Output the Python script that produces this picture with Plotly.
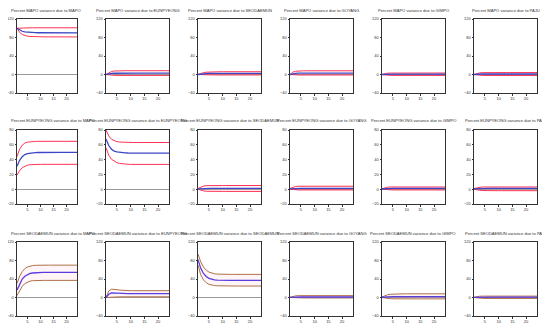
import plotly.graph_objects as go

periods = list(range(1, 25))
rows = ["MAPO", "EUNPYEONG", "SEODAEMUN"]
cols = ["MAPO", "EUNPYEONG", "SEODAEMUN", "GOYANG", "GIMPO", "PAJU"]
y_ranges = [[-40, 120], [-20, 80], [-40, 120]]
y_ticks = [[-40, 0, 40, 80, 120], [-20, 0, 20, 40, 60, 80], [-40, 0, 40, 80, 120]]
x_ticks = [5, 10, 15, 20]

# ---- Row 1: Percent MAPO variance due to ...
mapo_mapo_c = [100, 96, 93.5, 92, 91.2, 90.8, 90.5, 90.4, 90.3, 90.3, 90.2, 90.2, 90.2, 90.2, 90.2, 90.2, 90.2, 90.2, 90.2, 90.2, 90.2, 90.2, 90.2, 90.2]
mapo_mapo_u = [100, 100.5, 100.8, 101, 101, 101, 101, 101, 101, 101, 101, 101, 101, 101, 101, 101, 101, 101, 101, 101, 101, 101, 101, 101]
mapo_mapo_l = [100, 91, 86.5, 84, 82.8, 82.2, 81.8, 81.6, 81.5, 81.4, 81.3, 81.3, 81.3, 81.3, 81.3, 81.3, 81.3, 81.3, 81.3, 81.3, 81.3, 81.3, 81.3, 81.3]
mapo_eun_c = [0, 1.5, 2.3, 2.7, 2.9, 3.0, 3.0, 3.0, 3.0, 3.0, 3.0, 3.0, 3.0, 3.0, 3.0, 3.0, 3.0, 3.0, 3.0, 3.0, 3.0, 3.0, 3.0, 3.0]
mapo_eun_u = [0, 4, 6.5, 7.5, 8, 8.2, 8.2, 8.2, 8.2, 8.2, 8.2, 8.2, 8.2, 8.2, 8.2, 8.2, 8.2, 8.2, 8.2, 8.2, 8.2, 8.2, 8.2, 8.2]
mapo_eun_l = [0, -1, -1.5, -1.8, -2, -2, -2, -2, -2, -2, -2, -2, -2, -2, -2, -2, -2, -2, -2, -2, -2, -2, -2, -2]
mapo_seo_c = [0, 1, 1.6, 2, 2.3, 2.5, 2.6, 2.6, 2.6, 2.6, 2.6, 2.6, 2.6, 2.6, 2.6, 2.6, 2.6, 2.6, 2.6, 2.6, 2.6, 2.6, 2.6, 2.6]
mapo_seo_u = [0, 2.5, 4, 5, 5.5, 5.8, 6, 6, 6, 6, 6, 6, 6, 6, 6, 6, 6, 6, 6, 6, 6, 6, 6, 6]
mapo_seo_l = [0, -0.4, -0.7, -0.9, -1, -1, -1, -1, -1, -1, -1, -1, -1, -1, -1, -1, -1, -1, -1, -1, -1, -1, -1, -1]
mapo_goy_c = [0, 1.8, 2.6, 3, 3.1, 3.1, 3.1, 3.1, 3.1, 3.1, 3.1, 3.1, 3.1, 3.1, 3.1, 3.1, 3.1, 3.1, 3.1, 3.1, 3.1, 3.1, 3.1, 3.1]
mapo_goy_u = [0, 5, 7, 7.8, 8, 8, 8, 8, 8, 8, 8, 8, 8, 8, 8, 8, 8, 8, 8, 8, 8, 8, 8, 8]
mapo_goy_l = [0, -0.8, -1, -1.1, -1.1, -1.1, -1.1, -1.1, -1.1, -1.1, -1.1, -1.1, -1.1, -1.1, -1.1, -1.1, -1.1, -1.1, -1.1, -1.1, -1.1, -1.1, -1.1, -1.1]
mapo_gim_c = [0, 0.6, 0.9, 1, 1, 1, 1, 1, 1, 1, 1, 1, 1, 1, 1, 1, 1, 1, 1, 1, 1, 1, 1, 1]
mapo_gim_u = [0, 2, 2.8, 3.1, 3.2, 3.2, 3.2, 3.2, 3.2, 3.2, 3.2, 3.2, 3.2, 3.2, 3.2, 3.2, 3.2, 3.2, 3.2, 3.2, 3.2, 3.2, 3.2, 3.2]
mapo_gim_l = [0, -1, -1.6, -1.9, -2, -2, -2, -2, -2, -2, -2, -2, -2, -2, -2, -2, -2, -2, -2, -2, -2, -2, -2, -2]
mapo_paju_c = [0, 0.7, 1, 1.1, 1.1, 1.1, 1.1, 1.1, 1.1, 1.1, 1.1, 1.1, 1.1, 1.1, 1.1, 1.1, 1.1, 1.1, 1.1, 1.1, 1.1, 1.1, 1.1, 1.1]
mapo_paju_u = [0, 2.5, 3.5, 4, 4.2, 4.2, 4.2, 4.2, 4.2, 4.2, 4.2, 4.2, 4.2, 4.2, 4.2, 4.2, 4.2, 4.2, 4.2, 4.2, 4.2, 4.2, 4.2, 4.2]
mapo_paju_l = [0, -1, -1.7, -2, -2.1, -2.1, -2.1, -2.1, -2.1, -2.1, -2.1, -2.1, -2.1, -2.1, -2.1, -2.1, -2.1, -2.1, -2.1, -2.1, -2.1, -2.1, -2.1, -2.1]

# ---- Row 2: Percent EUNPYEONG variance due to ...
eun_mapo_c = [31, 39, 44, 46.8, 48.2, 48.9, 49.3, 49.5, 49.6, 49.7, 49.7, 49.7, 49.7, 49.7, 49.7, 49.7, 49.7, 49.7, 49.7, 49.7, 49.7, 49.7, 49.7, 49.7]
eun_mapo_u = [44, 54, 59.5, 62.3, 63.6, 64.2, 64.5, 64.6, 64.7, 64.7, 64.7, 64.7, 64.7, 64.7, 64.7, 64.7, 64.7, 64.7, 64.7, 64.7, 64.7, 64.7, 64.7, 64.7]
eun_mapo_l = [19, 25, 29, 31.3, 32.5, 33.1, 33.4, 33.5, 33.6, 33.6, 33.6, 33.6, 33.6, 33.6, 33.6, 33.6, 33.6, 33.6, 33.6, 33.6, 33.6, 33.6, 33.6, 33.6]
eun_eun_c = [68, 59, 54, 51.5, 50.3, 49.6, 49.2, 49, 48.9, 48.8, 48.8, 48.8, 48.8, 48.8, 48.8, 48.8, 48.8, 48.8, 48.8, 48.8, 48.8, 48.8, 48.8, 48.8]
eun_eun_u = [80, 72, 67.5, 65.3, 64.2, 63.7, 63.4, 63.2, 63.1, 63.1, 63.1, 63.1, 63.1, 63.1, 63.1, 63.1, 63.1, 63.1, 63.1, 63.1, 63.1, 63.1, 63.1, 63.1]
eun_eun_l = [56, 46, 40.5, 37.5, 35.8, 34.8, 34.2, 33.9, 33.7, 33.5, 33.5, 33.5, 33.5, 33.5, 33.5, 33.5, 33.5, 33.5, 33.5, 33.5, 33.5, 33.5, 33.5, 33.5]
eun_seo_c = [0.5, 0.8, 1, 1.1, 1.1, 1.1, 1.1, 1.1, 1.1, 1.1, 1.1, 1.1, 1.1, 1.1, 1.1, 1.1, 1.1, 1.1, 1.1, 1.1, 1.1, 1.1, 1.1, 1.1]
eun_seo_u = [1, 3, 4.2, 4.8, 5, 5, 5, 5, 5, 5, 5, 5, 5, 5, 5, 5, 5, 5, 5, 5, 5, 5, 5, 5]
eun_seo_l = [0, -1.5, -2.3, -2.8, -3, -3, -3, -3, -3, -3, -3, -3, -3, -3, -3, -3, -3, -3, -3, -3, -3, -3, -3, -3]
eun_goy_c = [0.5, 0.9, 1.1, 1.2, 1.2, 1.2, 1.2, 1.2, 1.2, 1.2, 1.2, 1.2, 1.2, 1.2, 1.2, 1.2, 1.2, 1.2, 1.2, 1.2, 1.2, 1.2, 1.2, 1.2]
eun_goy_u = [1, 2.8, 3.6, 4, 4, 4, 4, 4, 4, 4, 4, 4, 4, 4, 4, 4, 4, 4, 4, 4, 4, 4, 4, 4]
eun_goy_l = [0, -0.6, -0.9, -1, -1, -1, -1, -1, -1, -1, -1, -1, -1, -1, -1, -1, -1, -1, -1, -1, -1, -1, -1, -1]
eun_gim_c = [0.3, 0.7, 0.9, 1, 1, 1, 1, 1, 1, 1, 1, 1, 1, 1, 1, 1, 1, 1, 1, 1, 1, 1, 1, 1]
eun_gim_u = [0.5, 2, 2.7, 3, 3, 3, 3, 3, 3, 3, 3, 3, 3, 3, 3, 3, 3, 3, 3, 3, 3, 3, 3, 3]
eun_gim_l = [0, -0.5, -0.8, -1, -1, -1, -1, -1, -1, -1, -1, -1, -1, -1, -1, -1, -1, -1, -1, -1, -1, -1, -1, -1]
eun_paju_c = [0.5, 0.8, 1, 1, 1, 1, 1, 1, 1, 1, 1, 1, 1, 1, 1, 1, 1, 1, 1, 1, 1, 1, 1, 1]
eun_paju_u = [1, 2, 2.7, 3, 3, 3, 3, 3, 3, 3, 3, 3, 3, 3, 3, 3, 3, 3, 3, 3, 3, 3, 3, 3]
eun_paju_l = [0, -1, -1.5, -1.8, -2, -2, -2, -2, -2, -2, -2, -2, -2, -2, -2, -2, -2, -2, -2, -2, -2, -2, -2, -2]

# ---- Row 3: Percent SEODAEMUN variance due to ...
seo_mapo_c = [16, 30, 40, 46, 50, 52, 53, 53.6, 54, 54.2, 54.2, 54.2, 54.2, 54.2, 54.2, 54.2, 54.2, 54.2, 54.2, 54.2, 54.2, 54.2, 54.2, 54.2]
seo_mapo_u = [30, 46, 56, 62.5, 66, 68, 69, 69.6, 70, 70, 70, 70, 70, 70, 70, 70, 70, 70, 70, 70, 70, 70, 70, 70]
seo_mapo_l = [4, 15, 24, 30, 33.5, 35.3, 36.3, 36.8, 37, 37, 37, 37, 37, 37, 37, 37, 37, 37, 37, 37, 37, 37, 37, 37]
seo_eun_c = [0, 7, 10, 10, 9.5, 9, 8.7, 8.5, 8.4, 8.3, 8.3, 8.3, 8.3, 8.3, 8.3, 8.3, 8.3, 8.3, 8.3, 8.3, 8.3, 8.3, 8.3, 8.3]
seo_eun_u = [0, 14, 18, 18, 17, 16, 15.3, 15, 14.8, 14.7, 14.7, 14.7, 14.7, 14.7, 14.7, 14.7, 14.7, 14.7, 14.7, 14.7, 14.7, 14.7, 14.7, 14.7]
seo_eun_l = [0, 0.5, 1.2, 1.4, 1.5, 1.5, 1.5, 1.5, 1.5, 1.5, 1.5, 1.5, 1.5, 1.5, 1.5, 1.5, 1.5, 1.5, 1.5, 1.5, 1.5, 1.5, 1.5, 1.5]
seo_seo_c = [82, 63, 52, 45.5, 41.5, 39.5, 38.3, 37.6, 37.2, 37, 37, 37, 37, 37, 37, 37, 37, 37, 37, 37, 37, 37, 37, 37]
seo_seo_u = [94, 77, 66, 59, 55, 52.5, 51.3, 50.6, 50.2, 50, 50, 50, 50, 50, 50, 50, 50, 50, 50, 50, 50, 50, 50, 50]
seo_seo_l = [70, 49, 38, 32, 28.5, 26.8, 25.8, 25.3, 25, 24.8, 24.8, 24.8, 24.8, 24.8, 24.8, 24.8, 24.8, 24.8, 24.8, 24.8, 24.8, 24.8, 24.8, 24.8]
seo_goy_c = [0.3, 0.8, 1, 1.1, 1.1, 1.1, 1.1, 1.1, 1.1, 1.1, 1.1, 1.1, 1.1, 1.1, 1.1, 1.1, 1.1, 1.1, 1.1, 1.1, 1.1, 1.1, 1.1, 1.1]
seo_goy_u = [0.5, 2.5, 3.5, 4, 4, 4, 4, 4, 4, 4, 4, 4, 4, 4, 4, 4, 4, 4, 4, 4, 4, 4, 4, 4]
seo_goy_l = [0, -0.5, -0.8, -1, -1, -1, -1, -1, -1, -1, -1, -1, -1, -1, -1, -1, -1, -1, -1, -1, -1, -1, -1, -1]
seo_gim_c = [0.5, 1.2, 1.7, 2, 2, 2, 2, 2, 2, 2, 2, 2, 2, 2, 2, 2, 2, 2, 2, 2, 2, 2, 2, 2]
seo_gim_u = [1, 4, 6, 7, 7.5, 7.8, 8, 8, 8, 8, 8, 8, 8, 8, 8, 8, 8, 8, 8, 8, 8, 8, 8, 8]
seo_gim_l = [0, -1.2, -2, -2.5, -2.8, -3, -3, -3, -3, -3, -3, -3, -3, -3, -3, -3, -3, -3, -3, -3, -3, -3, -3, -3]
seo_paju_c = [0.3, 0.6, 0.8, 0.8, 0.8, 0.8, 0.8, 0.8, 0.8, 0.8, 0.8, 0.8, 0.8, 0.8, 0.8, 0.8, 0.8, 0.8, 0.8, 0.8, 0.8, 0.8, 0.8, 0.8]
seo_paju_u = [0.5, 2, 2.7, 3, 3, 3, 3, 3, 3, 3, 3, 3, 3, 3, 3, 3, 3, 3, 3, 3, 3, 3, 3, 3]
seo_paju_l = [0, -1, -1.5, -1.8, -2, -2, -2, -2, -2, -2, -2, -2, -2, -2, -2, -2, -2, -2, -2, -2, -2, -2, -2, -2]

panels = [
    [(mapo_mapo_c, mapo_mapo_u, mapo_mapo_l), (mapo_eun_c, mapo_eun_u, mapo_eun_l),
     (mapo_seo_c, mapo_seo_u, mapo_seo_l), (mapo_goy_c, mapo_goy_u, mapo_goy_l),
     (mapo_gim_c, mapo_gim_u, mapo_gim_l), (mapo_paju_c, mapo_paju_u, mapo_paju_l)],
    [(eun_mapo_c, eun_mapo_u, eun_mapo_l), (eun_eun_c, eun_eun_u, eun_eun_l),
     (eun_seo_c, eun_seo_u, eun_seo_l), (eun_goy_c, eun_goy_u, eun_goy_l),
     (eun_gim_c, eun_gim_u, eun_gim_l), (eun_paju_c, eun_paju_u, eun_paju_l)],
    [(seo_mapo_c, seo_mapo_u, seo_mapo_l), (seo_eun_c, seo_eun_u, seo_eun_l),
     (seo_seo_c, seo_seo_u, seo_seo_l), (seo_goy_c, seo_goy_u, seo_goy_l),
     (seo_gim_c, seo_gim_u, seo_gim_l), (seo_paju_c, seo_paju_u, seo_paju_l)],
]

# the page body adds an 8 px margin, so the figure is drawn 8 px lower/right
W, H = 542, 322
OFF = 8
col_left = [17, 106, 198, 290, 382, 474]
col_w = [60, 63, 63, 63, 63, 63]
row_top = [19, 130, 242]
panel_h = 74

band_colors = ["#ff3355", "#ff3355", "#b07048"]
center_colors = ["#3c46c8", "#3c46c8", "#5a3ce0"]

fig = go.Figure()
layout_axes = {}
annotations = []
FONT = "Liberation Sans Narrow, Arial Narrow, Liberation Sans, Arial, sans-serif"

for r in range(3):
    for c in range(6):
        idx = r * 6 + c + 1
        xa = "x" if idx == 1 else f"x{idx}"
        ya = "y" if idx == 1 else f"y{idx}"
        cen, up, lo = panels[r][c]
        x0 = (col_left[c] - OFF) / W
        x1 = (col_left[c] - OFF + col_w[c]) / W
        y1 = 1 - (row_top[r] - OFF) / H
        y0 = 1 - (row_top[r] - OFF + panel_h) / H
        fill_band = (r == 2) or (r == 1 and c >= 2)
        fig.add_trace(go.Scatter(x=periods, y=lo, mode="lines", xaxis=xa, yaxis=ya,
                                 line=dict(color=band_colors[r], width=1), showlegend=False,
                                 hoverinfo="skip"))
        fig.add_trace(go.Scatter(x=periods, y=up, mode="lines", xaxis=xa, yaxis=ya,
                                 line=dict(color=band_colors[r], width=1), showlegend=False,
                                 fill="tonexty" if fill_band else None,
                                 fillcolor="rgba(255,170,190,0.12)", hoverinfo="skip"))
        fig.add_trace(go.Scatter(x=periods, y=cen, mode="lines", xaxis=xa, yaxis=ya,
                                 line=dict(color=center_colors[r], width=1.3), showlegend=False))
        axis_common = dict(showline=True, linecolor="#333333", linewidth=1, mirror=True,
                           showgrid=False, ticks="outside", ticklen=1.5, tickwidth=0.8,
                           tickcolor="#333333", automargin=False,
                           tickfont=dict(size=4, family=FONT, color="#333333"))
        layout_axes["xaxis" if idx == 1 else f"xaxis{idx}"] = dict(
            domain=[x0, x1], anchor=ya, range=[1, 24], tickvals=x_ticks,
            zeroline=False, **axis_common)
        layout_axes["yaxis" if idx == 1 else f"yaxis{idx}"] = dict(
            domain=[y0, y1], anchor=xa, range=y_ranges[r], tickvals=y_ticks[r],
            zeroline=True, zerolinecolor="#9a9a9a", zerolinewidth=0.7, **axis_common)
        if c == 0:
            tx, anchor = 1.0 / W, "left"
        else:
            tx, anchor = (x0 + x1) / 2, "center"
        annotations.append(dict(
            text=f"Percent {rows[r]} variance due to {cols[c]}",
            x=tx, y=1 - (row_top[r] - OFF - 9) / H, xref="paper", yref="paper",
            xanchor=anchor, yanchor="middle", showarrow=False,
            font=dict(size=4.1, family=FONT, color="#333333")))

fig.update_layout(width=W, height=H, margin=dict(l=0, r=0, t=0, b=0, autoexpand=False),
                  paper_bgcolor="white", plot_bgcolor="white",
                  annotations=annotations, **layout_axes)
fig.write_html("out.html")
